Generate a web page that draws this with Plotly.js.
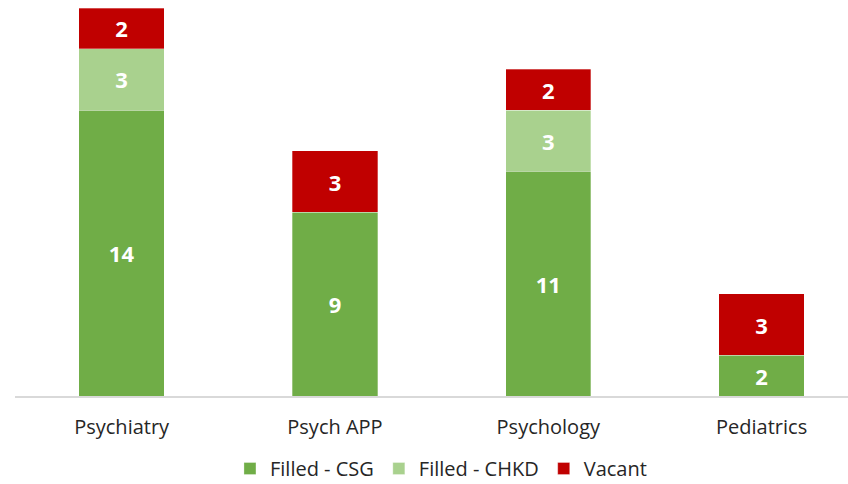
<!DOCTYPE html>
<html>
<head>
<meta charset="utf-8">
<script src="https://cdn.plot.ly/plotly-3.0.1.min.js"></script>
<style>
  html, body { margin: 0; padding: 0; background: #fff; }
  #chart { width: 848px; height: 484px; }
</style>
</head>
<body>
<div id="chart"></div>
<script>
// Data
const categories = ['Psychiatry', 'Psych APP', 'Psychology', 'Pediatrics'];
const filledCSG = [14, 9, 11, 2];
const filledCHKD = [3, null, 3, null];
const vacant = [2, 3, 2, 3];

const seriesNames = ['Filled - CSG', 'Filled - CHKD', 'Vacant'];
const seriesColors = ['#70AD47', '#A9D18E', '#C00000'];

function makeTrace(values, i) {
    return {
        type: 'bar',
        name: seriesNames[i],
        x: categories,
        y: values,
        text: values.map(v => v == null ? '' : String(v)),
        texttemplate: '%{text}',
        textposition: 'inside',
        insidetextanchor: 'middle',
        textangle: 0,
        textfont: { family: 'Open Sans, Liberation Sans, sans-serif', size: 22, color: '#ffffff', weight: 'bold' },
        marker: { color: seriesColors[i], line: { color: 'rgba(255,255,255,0.6)', width: 0.5 } },
        hoverinfo: 'skip'
    };
}

const traces = [filledCSG, filledCHKD, vacant].map(makeTrace);

const layout = {
    width: 848,
    height: 484,
    barmode: 'stack',
    bargap: 0.6,
    margin: { l: 15, r: 0, t: 8, b: 88 },
    paper_bgcolor: '#ffffff',
    plot_bgcolor: '#ffffff',
    font: { family: 'Open Sans, Liberation Sans, sans-serif', color: '#262626', size: 18 },
    xaxis: {
        range: [-0.5, 3.405],
        showline: true,
        linecolor: '#d9d9d9',
        linewidth: 2,
        ticks: '',
        ticklabelstandoff: 12,
        tickfont: { size: 20, color: '#262626' },
        fixedrange: true
    },
    yaxis: {
        range: [0, 19],
        visible: false,
        showgrid: false,
        zeroline: false,
        fixedrange: true
    },
    showlegend: true,
    legend: {
        orientation: 'h',
        xref: 'container',
        yref: 'container',
        x: 0.52,
        xanchor: 'center',
        y: 0.032,
        yanchor: 'middle',
        font: { size: 20, color: '#262626' },
        traceorder: 'normal',
        itemwidth: 30
    }
};

Plotly.newPlot('chart', traces, layout, { displayModeBar: false, staticPlot: true });
</script>
</body>
</html>
